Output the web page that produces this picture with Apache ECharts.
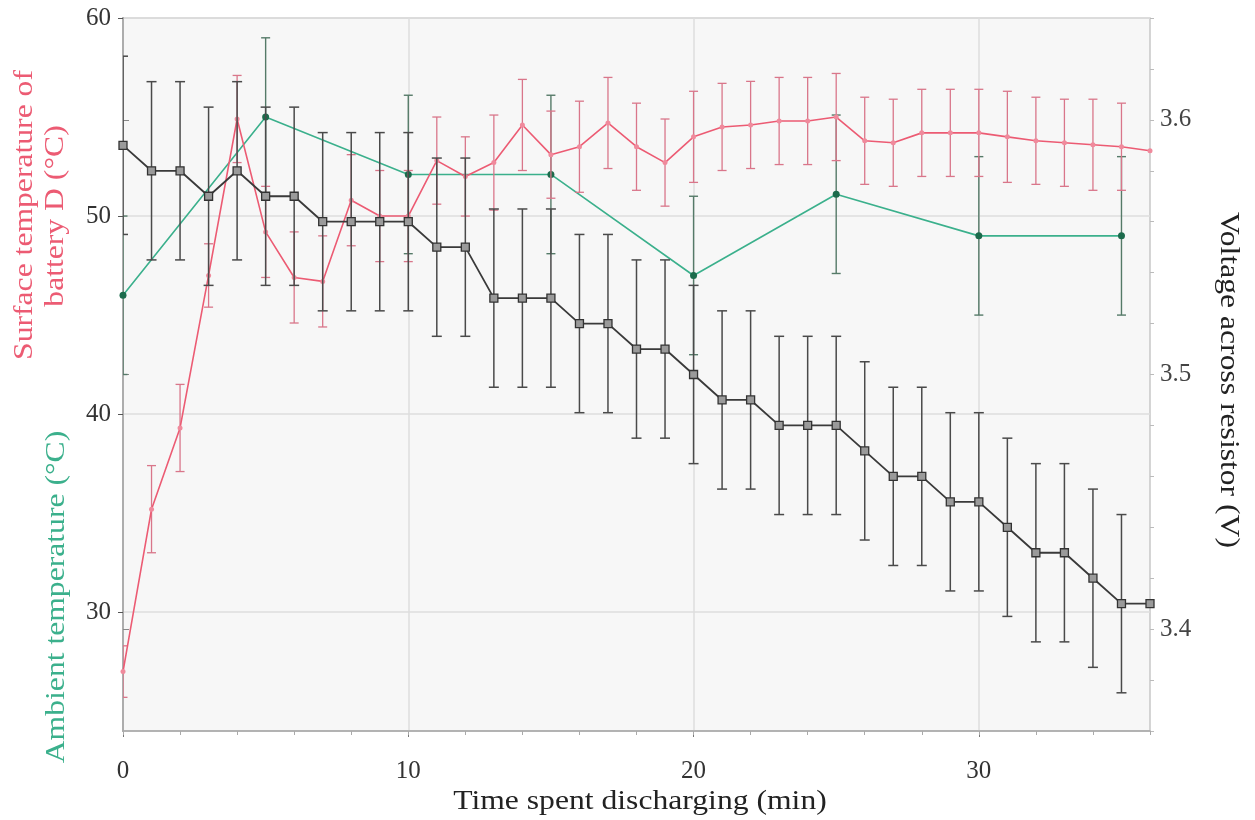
<!DOCTYPE html>
<html><head><meta charset="utf-8">
<script src="https://cdn.jsdelivr.net/npm/echarts@6/dist/echarts.min.js"></script>
<style>html,body{margin:0;padding:0;background:#fff}#c{width:1255px;height:820px}</style>
</head><body><div id="c"></div>
<script>
// ---- data ----
const minutes = [0,1,2,3,4,5,6,7,8,9,10,11,12,13,14,15,16,17,18,19,20,21,22,23,24,25,26,27,28,29,30,31,32,33,34,35,36];
const surfaceTemp = [27.0,35.2,39.3,47.0,54.9,49.2,46.9,46.7,50.8,50.0,50.0,52.8,52.0,52.7,54.6,53.1,53.5,54.7,53.5,52.7,54.0,54.5,54.6,54.8,54.8,55.0,53.8,53.7,54.2,54.2,54.2,54.0,53.8,53.7,53.6,53.5,53.3];
const surfaceErr = [1.3,2.2,2.2,1.6,2.2,2.3,2.3,2.3,2.3,2.3,2.3,2.2,2.0,2.4,2.3,2.2,2.3,2.3,2.2,2.2,2.3,2.2,2.2,2.2,2.2,2.2,2.2,2.2,2.2,2.2,2.2,2.3,2.2,2.2,2.3,2.2,null];
const ambientMinutes = [0,5,10,15,20,25,30,35];
const ambientTemp = [46.0,55.0,52.1,52.1,47.0,51.1,49.0,49.0];
const ambientErr = [4,4,4,4,4,4,4,4];
const voltage = [3.59,3.58,3.58,3.57,3.58,3.57,3.57,3.56,3.56,3.56,3.56,3.55,3.55,3.53,3.53,3.53,3.52,3.52,3.51,3.51,3.50,3.49,3.49,3.48,3.48,3.48,3.47,3.46,3.46,3.45,3.45,3.44,3.43,3.43,3.42,3.41,3.41];
const voltageErr = [0.035,0.035,0.035,0.035,0.035,0.035,0.035,0.035,0.035,0.035,0.035,0.035,0.035,0.035,0.035,0.035,0.035,0.035,0.035,0.035,0.035,0.035,0.035,0.035,0.035,0.035,0.035,0.035,0.035,0.035,0.035,0.035,0.035,0.035,0.035,0.035,null];
const xTickLabels = [0,10,20,30];
const leftTickLabels = [30,40,50,60];
const rightTickLabels = [3.4,3.5,3.6];

// ---- build ----
const FONT = '"Liberation Serif", "DejaVu Serif", serif';
function pairs(xs, ys){ return xs.map((x,i)=>[x, ys[i]]); }
function errData(xs, ys, es){
  const out = [];
  xs.forEach((x,i)=>{ if (es[i] != null) out.push([x, ys[i]-es[i], ys[i]+es[i]]); });
  return out;
}
function errRender(capW, color, width){
  return function(params, api){
    const x = api.value(0), lo = api.value(1), hi = api.value(2);
    const p1 = api.coord([x, hi]), p2 = api.coord([x, lo]);
    const style = {stroke: color, lineWidth: width, fill: null};
    return {type:'group', children:[
      {type:'line', shape:{x1:p1[0],y1:p1[1],x2:p2[0],y2:p2[1]}, style},
      {type:'line', shape:{x1:p1[0]-capW/2,y1:p1[1],x2:p1[0]+capW/2,y2:p1[1]}, style},
      {type:'line', shape:{x1:p2[0]-capW/2,y1:p2[1],x2:p2[0]+capW/2,y2:p2[1]}, style}
    ]};
  };
}
function vtitle(text, x, y, rot, color){
  return {type:'text', x:x, y:y, rotation:rot, scaleX:1.13, scaleY:1,
    style:{text:text, font:'28px ' + FONT, fill:color, align:'center', verticalAlign:'middle'}};
}

const RED = '#ec5b73', GREEN = '#3bb08c', BLACK = '#3a3a3a';
const chart = echarts.init(document.getElementById('c'), null, {renderer:'canvas'});
chart.setOption({
  backgroundColor: '#ffffff',
  animation: false,
  grid: {left:123, right:105, top:18, bottom:89, show:true, backgroundColor:'#f7f7f7', borderColor:'#c8c8c8', borderWidth:1.5},
  xAxis: [{
    type:'value', min:0, max:36, position:'bottom',
    axisLine:{show:true, lineStyle:{color:'#a8a8a8', width:1.5}},
    axisTick:{show:true, customValues:xTickLabels, length:6, lineStyle:{color:'#777'}},
    axisLabel:{customValues:xTickLabels, fontFamily:FONT, fontSize:25, color:'#333', margin:28},
    splitLine:{show:true, lineStyle:{color:'#dedede', width:1.5}}
  },{
    type:'value', min:0, max:36, interval:2, position:'bottom',
    axisLine:{show:false}, axisTick:{show:true, length:4, lineStyle:{color:'#aaa'}},
    axisLabel:{show:false}, splitLine:{show:false}
  }],
  yAxis: [{
    type:'value', min:24, max:60, position:'left',
    axisLine:{show:true, lineStyle:{color:'#555', width:1.5}},
    axisTick:{show:true, customValues:leftTickLabels, length:5, lineStyle:{color:'#555'}},
    axisLabel:{customValues:leftTickLabels, fontFamily:FONT, fontSize:25, color:'#333', margin:12},
    splitLine:{show:true, lineStyle:{color:'#dedede', width:1.5}}
  },{
    type:'value', min:3.36, max:3.64, position:'right',
    axisLine:{show:true, lineStyle:{color:'#c0c0c0', width:1.5}},
    axisTick:{show:true, customValues:rightTickLabels, length:6, lineStyle:{color:'#888'}},
    axisLabel:{customValues:rightTickLabels, fontFamily:FONT, fontSize:25, color:'#444', margin:10,
      formatter:(v)=>v.toFixed(1)},
    splitLine:{show:false}
  },{
    type:'value', min:3.36, max:3.64, interval:0.02, position:'right',
    axisLine:{show:false}, axisTick:{show:true, length:4, lineStyle:{color:'#bbb'}},
    axisLabel:{show:false}, splitLine:{show:false}
  }],
  graphic: [
    vtitle('Surface temperature of', 25, 215, Math.PI/2, RED),
    vtitle('battery D (°C)', 56, 216, Math.PI/2, RED),
    vtitle('Ambient temperature (°C)', 57, 597, Math.PI/2, GREEN),
    vtitle('Voltage across resistor (V)', 1228, 380, -Math.PI/2, '#222'),
    vtitle('Time spent discharging (min)', 640, 802, 0, '#222')
  ],
  series: [
    {type:'custom', name:'ambErr', xAxisIndex:0, yAxisIndex:0, clip:true, z:2,
     renderItem: errRender(9, '#557a68', 1.4), encode:{x:0, y:[1,2]},
     data: errData(ambientMinutes, ambientTemp, ambientErr)},
    {type:'line', name:'Ambient', xAxisIndex:0, yAxisIndex:0, z:3,
     data: pairs(ambientMinutes, ambientTemp),
     lineStyle:{color:GREEN, width:1.6}, symbol:'circle', symbolSize:7,
     itemStyle:{color:'#1c6b4c'}},
    {type:'custom', name:'surfErr', xAxisIndex:0, yAxisIndex:0, clip:true, z:4,
     renderItem: errRender(9, '#d9768a', 1.3), encode:{x:0, y:[1,2]},
     data: errData(minutes, surfaceTemp, surfaceErr)},
    {type:'line', name:'Surface', xAxisIndex:0, yAxisIndex:0, z:5, clip:true,
     data: pairs(minutes, surfaceTemp),
     lineStyle:{color:RED, width:1.6}, symbol:'circle', symbolSize:5,
     itemStyle:{color:'#f08a9c'}},
    {type:'custom', name:'voltErr', xAxisIndex:0, yAxisIndex:1, clip:true, z:6,
     renderItem: errRender(10, '#4a4a4a', 1.5), encode:{x:0, y:[1,2]},
     data: errData(minutes, voltage, voltageErr)},
    {type:'line', name:'Voltage', xAxisIndex:0, yAxisIndex:1, z:7, clip:true,
     data: pairs(minutes, voltage),
     lineStyle:{color:BLACK, width:1.8}, symbol:'rect', symbolSize:8,
     itemStyle:{color:'#9a9a9a', borderColor:'#333', borderWidth:1.3}}
  ]
});
</script>
</body></html>
